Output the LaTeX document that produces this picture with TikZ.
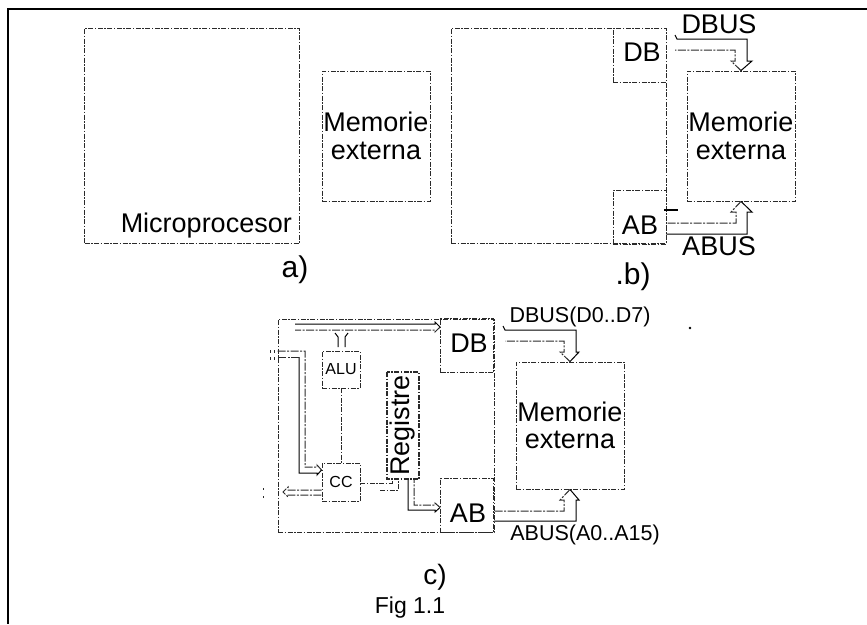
\documentclass[tikz,border=0pt]{standalone}
\usepackage{fontspec}
\setmainfont{Liberation Sans}
\definecolor{linie}{HTML}{2A2A2A}
\tikzset{
  cadru/.style={black,line width=1.4pt},
  bloc/.style={draw=linie,dash pattern=on 5pt off 1.5pt on 1.5pt off 1.5pt,line width=0.9pt,inner sep=0pt},
  plin/.style={black,line width=1pt,line join=miter},
  magis/.style={linie,dash pattern=on 8pt off 1.5pt on 2pt off 1.5pt,line width=1pt,line join=miter},
  mare/.style={font=\fontsize{27}{27.5}\selectfont,align=center,inner sep=0pt},
  medie/.style={font=\fontsize{21.5}{24}\selectfont,inner sep=0pt},
  mica/.style={font=\fontsize{16}{18}\selectfont,inner sep=0pt},
  mem/.style={bloc,mare,minimum width=108pt,minimum height=130pt},
  port/.style={bloc,minimum width=53pt,minimum height=54pt},
  mp/.style={bloc,minimum width=215pt,minimum height=215pt},
}
\begin{document}
\begin{tikzpicture}[x=1pt,y=-1pt]
  \useasboundingbox (0,0) rectangle (867,624);
  \draw[cadru] (867,9)--(8,9)--(8,624);
  % a)
  \node[mp] (mpa) at (192,135.5) {};
  \node[mem] (mema) at (376,136) {Memorie\\externa};
  \node[mare,anchor=south east] (mpat) at (292,238) {Microprocesor};
  \node[mare,font=\fontsize{30}{30}\selectfont] (eta) at (295,270) {a)};
  % b)
  \node[mp] (mpb) at (558.5,135.5) {};
  \node[port] (dbb) at (639.5,55) {};
  \node[port] (abb) at (639.5,217) {};
  \node[mare] at (642,52) (dbbt) {DB};
  \node[mare] at (640,225) (abbt) {AB};
  \node[mem] (memb) at (741,136) {Memorie\\externa};
  \node[mare] (dbust) at (719,24) {DBUS};
  \node[mare] (abust) at (719,246) {ABUS};
  \node[mare,font=\fontsize{30}{30}\selectfont] (etb) at (633,277) {.b)};
  \coordinate (dbo) at (677,39);
  \coordinate (dbi) at (675,50);
  \draw[plin] (675,35)--(dbo)-|(747,61)--(752,61)--(memb.north);
  \draw[magis] (memb.north)--(731,61)--(735,61)|-(dbi);
  \draw[plin] (abb.east |- 0,234)-|(747,212)--(752,212)--(memb.south);
  \draw[magis] (memb.south)--(731,212)--(736,212)|-(abb.east |- 0,223);
  \draw[black,line width=1.4pt] (664,210)--(678,210);
  % c)
  \node[mp,minimum width=216pt,minimum height=213pt] (mpc) at (386,425.5) {};
  \node[port] (dbc) at (467,345.5) {};
  \node[port] (abc) at (467,505.5) {};
  \node[mare] (dbct) at (469,343) {DB};
  \node[mare] (abct) at (468,513) {AB};
  \node[bloc,mica,minimum width=38pt,minimum height=37pt] (alu) at (341,369.5) {ALU};
  \node[bloc,mica,minimum width=38pt,minimum height=38pt] (ccb) at (341,482) {CC};
  \node[bloc,mare,rotate=90,minimum width=107pt,minimum height=32pt,line width=1.3pt] (reg) at (403,425.5) {Registre};
  \node[mem,minimum height=127pt] (memc) at (570,425.5) {Memorie\\externa};
  \node[medie] (dbusc) at (580,317) {DBUS(D0..D7)};
  \node[medie] (abusc) at (585,535) {ABUS(A0..A15)};
  \node[mare,font=\fontsize{28}{28}\selectfont] (etc) at (435,577) {c)};
  \node[mare,font=\fontsize{23}{23}\selectfont] (fig) at (410,608) {Fig 1.1};
  \coordinate (dco) at (505,330);
  \coordinate (dci) at (505,341);
  \draw[plin] (503,326)--(dco)-|(576,352)--(579,352)--(memc.north);
  \draw[magis] (memc.north)--(560,352)--(564,352)|-(dci);
  \draw[plin] (abc.east |- 0,521)-|(576,500)--(579,500)--(memc.south);
  \draw[magis] (memc.south)--(560,500)--(564,500)|-(abc.east |- 0,511);
  \coordinate (ic1) at (295,324);
  \coordinate (ic2) at (295,330);
  \draw[plin] (ic1)--(435,324)--(435,322)--(dbc.west |- 0,327);
  \draw[magis] (dbc.west |- 0,327)--(435,332)--(435,330)--(ic2);
  \draw[plin] (338,347)--(338,337)--(335,333);
  \draw[plin] (345,347)--(345,337)--(348,333);
  \draw[magis] (mpc.west |- 0,351)-|(305,467)--(317,467)--(317,465)--(ccb.west |- 0,470);
  \draw[plin] (ccb.west |- 0,470)--(317,475)--(317,473)-|(299,357);
  \draw[magis] (299,357)--(mpc.west |- 0,357);
  \draw[magis] (ccb.west |- 0,490)--(288,490)--(288,487)--(283,492)--(288,497)--(288,495)--(ccb.west |- 0,495);
  \draw[bloc] (alu.south)--(ccb.north);
  \draw[bloc] (ccb.east |- 0,483)-|(reg.west -| 392,0);
  \draw[bloc] (380,490)-|(reg.west -| 398,0);
  \draw[plin] (reg.west -| 408,0)|-(435,510)--(435,512)--(abc.west |- 0,507.5);
  \draw[magis] (abc.west |- 0,507.5)--(435,503)--(435,505)-|(reg.west -| 414,0);
  \draw[bloc] (270,350)--(270,353) (274,350)--(274,353) (270,357)--(270,360) (274,357)--(274,360);
  \draw[bloc] (263,488)--(263,490) (263,496)--(263,498);
  \fill[black] (690,328) circle (1.3pt);
\end{tikzpicture}
\end{document}
